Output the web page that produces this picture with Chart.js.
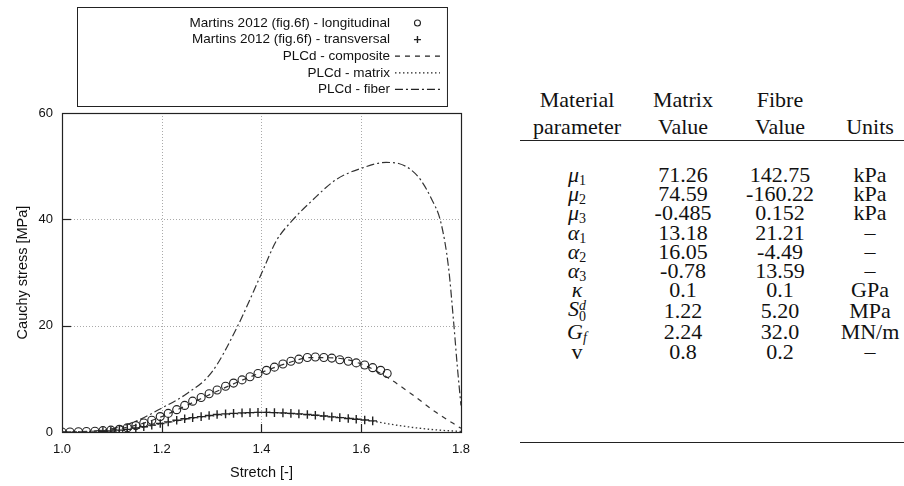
<!DOCTYPE html>
<html lang="en">
<head>
  <meta charset="UTF-8">
  <title>Cauchy stress vs stretch</title>
  <script src="https://cdn.jsdelivr.net/npm/chart.js"></script>
  <style>
    body { margin: 0; background: #fff; width: 904px; height: 486px; overflow: hidden; position: relative; }
    #chartBox { position: absolute; left: 0; top: 0; width: 480px; height: 486px; }
    #tableBox { position: absolute; left: 520px; top: 86px; width: 392px; font-family: "Liberation Serif", "Times New Roman", serif; font-size: 22px; color: #111; }
    table { border-collapse: collapse; width: 100%; }
    th { font-weight: normal; line-height: 27px; padding: 0; text-align: center; vertical-align: bottom; border-bottom: 1.5px solid #222; }
    td { line-height: 19.2px; padding: 0; text-align: center; white-space: nowrap; }
    tr.gap td { height: 24px; }
    tr.end td { height: 81px; border-bottom: 1.5px solid #222; }
    sub, sup { font-size: 14px; line-height: 0; }
    sub { vertical-align: -3px; }
    .ss { display: inline-block; vertical-align: -5px; line-height: 11px; font-size: 14px; text-align: left; }
    .ss span { display: block; }
  </style>
</head>
<body>
  <div id="chartBox"><canvas id="stressChart"></canvas></div>
  <div id="tableBox"><table id="paramTable"></table></div>

  <script>
    const stretchLong = [1.000, 1.016, 1.033, 1.049, 1.066, 1.082, 1.098, 1.115, 1.131, 1.148, 1.164, 1.180, 1.197, 1.213, 1.230, 1.246, 1.262, 1.279, 1.295, 1.311, 1.328, 1.344, 1.361, 1.377, 1.393, 1.410, 1.426, 1.443, 1.459, 1.475, 1.492, 1.508, 1.525, 1.541, 1.557, 1.574, 1.590, 1.607, 1.623, 1.639, 1.652];
    const stressLong  = [0.0, 0.0, 0.05, 0.1, 0.15, 0.25, 0.35, 0.5, 0.8, 1.2, 1.7, 2.2, 2.9, 3.5, 4.2, 5.0, 5.8, 6.5, 7.2, 7.9, 8.6, 9.2, 9.8, 10.4, 11.0, 11.6, 12.2, 12.8, 13.3, 13.7, 14.0, 14.1, 14.0, 13.9, 13.6, 13.3, 13.0, 12.6, 12.1, 11.6, 11.0];

    const stretchTrans = [1.082, 1.098, 1.115, 1.131, 1.148, 1.164, 1.180, 1.197, 1.213, 1.230, 1.246, 1.262, 1.279, 1.295, 1.311, 1.328, 1.344, 1.361, 1.377, 1.393, 1.410, 1.426, 1.443, 1.459, 1.475, 1.492, 1.508, 1.525, 1.541, 1.557, 1.574, 1.590, 1.607, 1.623];
    const stressTrans  = [0.1, 0.2, 0.35, 0.5, 0.75, 1.0, 1.3, 1.6, 1.9, 2.2, 2.5, 2.7, 2.9, 3.1, 3.3, 3.4, 3.5, 3.6, 3.65, 3.7, 3.7, 3.65, 3.6, 3.5, 3.4, 3.3, 3.15, 3.0, 2.85, 2.7, 2.55, 2.4, 2.25, 2.1];

    // PLCd model curves
    const stretchModel    = [1.0, 1.05, 1.1, 1.15, 1.2, 1.25, 1.3, 1.35, 1.4, 1.45, 1.5, 1.55, 1.6, 1.65, 1.7, 1.75, 1.8];
    const stressComposite = [0, 0.1, 0.4, 1.3, 2.9, 5.0, 7.2, 9.3, 11.2, 12.9, 14.0, 13.9, 12.8, 10.4, 7.2, 3.7, 0.7];
    const stressMatrix    = [0, 0, 0.1, 0.7, 1.6, 2.4, 3.0, 3.4, 3.7, 3.5, 3.2, 2.8, 2.4, 1.6, 0.9, 0.4, 0.1];

    const stretchFiber = [1.0, 1.05, 1.1, 1.15, 1.2, 1.25, 1.3, 1.35, 1.4, 1.43, 1.46, 1.5, 1.55, 1.6, 1.65, 1.675, 1.7, 1.72, 1.74, 1.76, 1.775, 1.785, 1.793, 1.8];
    const stressFiber  = [0, 0.1, 0.6, 2.1, 4.5, 7.2, 11.2, 19.5, 29.8, 36.0, 39.6, 43.4, 47.5, 49.6, 50.7, 50.5, 49.3, 47.3, 44.0, 39.3, 31.0, 21.0, 12.0, 5.0];

    const seriesLabels = [
      "Martins 2012 (fig.6f) - longitudinal",
      "Martins 2012 (fig.6f) - transversal",
      "PLCd - composite",
      "PLCd - matrix",
      "PLCd - fiber"
    ];
    const xTicks = [1.0, 1.2, 1.4, 1.6, 1.8];
    const yTicks = [0, 20, 40, 60];

    // table of material parameters
    const paramNames   = ["<i>μ</i><sub>1</sub>", "<i>μ</i><sub>2</sub>", "<i>μ</i><sub>3</sub>",
                          "<i>α</i><sub>1</sub>", "<i>α</i><sub>2</sub>", "<i>α</i><sub>3</sub>",
                          "<i>κ</i>", "<i>S</i><span class='ss'><span><i>d</i></span><span>0</span></span>",
                          "<i>G</i><sub><i>f</i></sub>", "v"];
    const matrixValues = ["71.26", "74.59", "-0.485", "13.18", "16.05", "-0.78", "0.1", "1.22", "2.24", "0.8"];
    const fibreValues  = ["142.75", "-160.22", "0.152", "21.21", "-4.49", "13.59", "0.1", "5.20", "32.0", "0.2"];
    const units        = ["kPa", "kPa", "kPa", "–", "–", "–", "GPa", "MPa", "MN/m", "–"];

    const toPoints = (xs, ys) => xs.map((x, i) => ({ x: x, y: ys[i] }));
    const ink = "#222";

    const datasets = [
      { label: seriesLabels[0], data: toPoints(stretchLong, stressLong), pointStyle: "circle", pointRadius: 4,
        borderColor: ink, backgroundColor: "rgba(0,0,0,0)", pointBorderWidth: 1.1, showLine: false },
      { label: seriesLabels[1], data: toPoints(stretchTrans, stressTrans), pointStyle: "cross", pointRadius: 4.3,
        borderColor: ink, pointBorderWidth: 1.4, showLine: false },
      { label: seriesLabels[2], data: toPoints(stretchModel, stressComposite), showLine: true, pointRadius: 0,
        borderColor: "#333", borderWidth: 1.2, borderDash: [5, 5], cubicInterpolationMode: "monotone" },
      { label: seriesLabels[3], data: toPoints(stretchModel, stressMatrix), showLine: true, pointRadius: 0,
        borderColor: "#333", borderWidth: 1.3, borderDash: [1.5, 2.5], cubicInterpolationMode: "monotone" },
      { label: seriesLabels[4], data: toPoints(stretchFiber, stressFiber), showLine: true, pointRadius: 0,
        borderColor: "#333", borderWidth: 1.2, borderDash: [8, 3, 2, 3], cubicInterpolationMode: "monotone" }
    ];

    // frame, dotted grid and inward ticks, gnuplot style
    const framePlugin = {
      id: "frame",
      beforeDatasetsDraw(chart) {
        const { ctx, chartArea: a, scales } = chart;
        ctx.save();
        ctx.strokeStyle = "#aaa";
        ctx.lineWidth = 1;
        ctx.setLineDash([1, 2]);
        xTicks.slice(1, -1).forEach(v => {
          const px = Math.round(scales.x.getPixelForValue(v)) + 0.5;
          ctx.beginPath(); ctx.moveTo(px, a.top); ctx.lineTo(px, a.bottom); ctx.stroke();
        });
        yTicks.slice(1, -1).forEach(v => {
          const py = Math.round(scales.y.getPixelForValue(v)) + 0.5;
          ctx.beginPath(); ctx.moveTo(a.left, py); ctx.lineTo(a.right, py); ctx.stroke();
        });
        ctx.setLineDash([]);
        ctx.strokeStyle = ink;
        ctx.lineWidth = 1.2;
        xTicks.slice(1, -1).forEach(v => {
          const px = Math.round(scales.x.getPixelForValue(v)) + 0.5;
          ctx.beginPath(); ctx.moveTo(px, a.bottom); ctx.lineTo(px, a.bottom - 8); ctx.stroke();
        });
        yTicks.slice(1, -1).forEach(v => {
          const py = Math.round(scales.y.getPixelForValue(v)) + 0.5;
          ctx.beginPath(); ctx.moveTo(a.left, py); ctx.lineTo(a.left + 9, py); ctx.stroke();
        });
        ctx.strokeRect(Math.round(a.left) + 0.5, Math.round(a.top) + 0.5, Math.round(a.right - a.left), Math.round(a.bottom - a.top));
        ctx.restore();
      },
      afterDraw(chart) {
        // boxed legend above the plot, text right-aligned, key sample on the right
        const { ctx, chartArea: a } = chart;
        const boxL = a.left + 15, boxR = a.right - 14, boxT = 7, boxB = 106;
        const textR = boxR - 57, keyL = boxR - 52, keyR = boxR - 7;
        ctx.save();
        ctx.strokeStyle = ink;
        ctx.lineWidth = 1;
        ctx.strokeRect(boxL + 0.5, boxT + 0.5, boxR - boxL, boxB - boxT);
        ctx.font = "13.5px 'Liberation Sans', Arial, sans-serif";
        ctx.fillStyle = "#111";
        ctx.textAlign = "right";
        ctx.textBaseline = "middle";
        chart.data.datasets.forEach((ds, i) => {
          const y = 23 + i * 16.6;
          ctx.fillText(ds.label, textR, y);
          ctx.strokeStyle = ink;
          if (ds.showLine) {
            ctx.lineWidth = ds.borderWidth;
            ctx.setLineDash(ds.borderDash);
            ctx.beginPath(); ctx.moveTo(keyL, y); ctx.lineTo(keyR, y); ctx.stroke();
            ctx.setLineDash([]);
          } else {
            const cx = (keyL + keyR) / 2;
            ctx.lineWidth = ds.pointBorderWidth;
            ctx.beginPath();
            if (ds.pointStyle === "circle") {
              ctx.arc(cx, y, 3, 0, Math.PI * 2);
            } else {
              ctx.moveTo(cx - 3.5, y); ctx.lineTo(cx + 3.5, y);
              ctx.moveTo(cx, y - 3.5); ctx.lineTo(cx, y + 3.5);
            }
            ctx.stroke();
          }
        });
        ctx.restore();
      }
    };

    const axisFont = { family: "'Liberation Sans', Arial, sans-serif", size: 13 };
    const titleFont = { family: axisFont.family, size: 14.5 };

    new Chart(document.getElementById("stressChart"), {
      type: "scatter",
      data: { datasets: datasets },
      options: {
        responsive: true,
        maintainAspectRatio: false,
        animation: false,
        layout: { padding: { top: 113, right: 16, left: 10, bottom: 0 } },
        plugins: { legend: { display: false }, tooltip: { enabled: false } },
        scales: {
          x: {
            type: "linear", min: 1.0, max: 1.8,
            afterBuildTicks: s => { s.ticks = xTicks.map(v => ({ value: v })); },
            afterFit: s => { s.height = 54; },
            grid: { display: false, drawTicks: false },
            border: { display: false },
            ticks: { color: "#111", font: axisFont, padding: 10, callback: v => v.toFixed(1) },
            title: { display: true, text: "Stretch [-]", color: "#111", font: titleFont, padding: { top: 8 } }
          },
          y: {
            min: 0, max: 60,
            afterBuildTicks: s => { s.ticks = yTicks.map(v => ({ value: v })); },
            afterFit: s => { s.width = 52; },
            grid: { display: false, drawTicks: false },
            border: { display: false },
            ticks: { color: "#111", font: axisFont, padding: 9 },
            title: { display: true, text: "Cauchy stress [MPa]", color: "#111", font: titleFont, padding: { top: 4, bottom: 2 } }
          }
        }
      },
      plugins: [framePlugin]
    });

    // parameter table
    let html = "<thead><tr><th>Material<br>parameter</th><th>Matrix<br>Value</th><th>Fibre<br>Value</th><th>Units</th></tr></thead><tbody>";
    html += "<tr class='gap'><td colspan='4'></td></tr>";
    paramNames.forEach((p, i) => {
      html += `<tr><td>${p}</td><td>${matrixValues[i]}</td><td>${fibreValues[i]}</td><td>${units[i]}</td></tr>`;
    });
    html += "<tr class='end'><td colspan='4'></td></tr></tbody>";
    const tbl = document.getElementById("paramTable");
    tbl.innerHTML = html;
    const colWidths = [114, 98, 96, 84];
    tbl.querySelectorAll("thead th").forEach((th, i) => { th.style.width = colWidths[i] + "px"; });
  </script>
</body>
</html>
